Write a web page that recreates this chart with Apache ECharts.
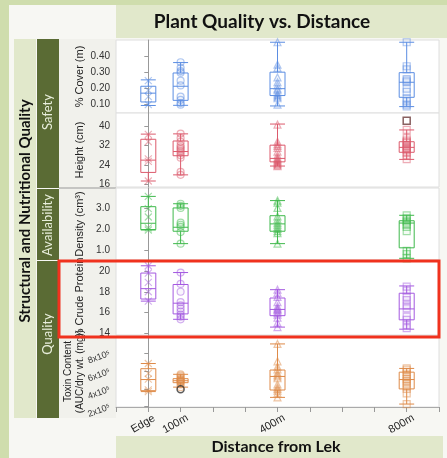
<!DOCTYPE html>
<html>
<head>
<meta charset="utf-8">
<script src="https://cdn.jsdelivr.net/npm/echarts@6/dist/echarts.min.js"></script>
<style>
  html, body { margin: 0; padding: 0; background: #cfddad; }
  #chart { width: 447px; height: 458px; }
</style>
</head>
<body>
<div id="chart"></div>
<script>
// distance groups (x axis)
const distances = [0, 100, 400, 800];
const distanceLabels = ['Edge', '100m', '400m', '800m'];

// box stats per group: [min, Q1, median, Q3, max]
const coverBox = [[0.095, 0.117, 0.172, 0.215, 0.255], [0.096, 0.127, 0.215, 0.298, 0.363], [0.092, 0.157, 0.200, 0.303, 0.490], [0.088, 0.146, 0.240, 0.300, 0.490]];
const coverPts = [
  [0.25, 0.19, 0.15, 0.10],
  [0.365, 0.33, 0.31, 0.30, 0.25, 0.22, 0.15, 0.13, 0.11, 0.10],
  [0.49, 0.35, 0.33, 0.27, 0.24, 0.22, 0.20, 0.19, 0.17, 0.16, 0.15, 0.14, 0.10],
  [0.49, 0.34, 0.32, 0.26, 0.25, 0.24, 0.20, 0.18, 0.14, 0.12, 0.10, 0.09]
];

const heightBox = [[17.5, 21.0, 26.0, 34.5, 36.6], [20.0, 27.8, 29.5, 33.8, 36.7], [23.6, 25.3, 26.7, 32.1, 40.7], [26.3, 29.2, 31.2, 33.5, 38.3]];
const heightPts = [
  [36.5, 33.5, 26.5, 25.5, 17.5],
  [36.8, 35.0, 33.5, 32.0, 31.2, 30.5, 29.8, 29.0, 28.0, 27.0, 21.2, 20.0],
  [40.5, 33.5, 32.5, 31.8, 31.0, 29.5, 28.0, 27.0, 26.5, 26.0, 25.5, 25.0, 24.5, 24.0, 23.6],
  [38.3, 35.0, 34.0, 33.5, 33.0, 32.0, 31.5, 31.0, 30.5, 30.0, 29.0, 28.0, 26.4]
];
const heightOutliers = [[800, 42]];

const densityBox = [[1.95, 1.97, 2.27, 3.06, 3.55], [1.30, 1.89, 2.08, 3.0, 3.2], [1.30, 1.89, 2.24, 2.63, 3.35], [0.6, 1.1, 2.28, 2.39, 2.65]];
const densityPts = [
  [3.55, 2.97, 2.57, 2.05, 1.95],
  [3.2, 3.1, 3.0, 2.3, 2.2, 2.1, 1.85, 1.3],
  [3.35, 3.25, 3.0, 2.6, 2.45, 2.3, 2.2, 2.1, 2.0, 1.9, 1.8, 1.3],
  [2.65, 2.5, 2.4, 2.3, 2.2, 2.1, 1.9, 0.95, 0.8, 0.6]
];

const proteinBox = [[17.1, 17.3, 18.3, 19.8, 20.5], [15.35, 15.87, 16.9, 18.7, 19.85], [14.6, 15.7, 16.3, 17.4, 18.2], [14.4, 15.3, 16.35, 17.86, 18.56]];
const proteinPts = [
  [20.5, 19.8, 18.9, 18.0, 17.1],
  [19.85, 18.75, 18.0, 17.0, 16.7, 16.4, 16.1, 15.8, 15.6, 15.35],
  [18.2, 17.9, 17.5, 17.0, 16.6, 16.4, 16.3, 16.2, 16.0, 15.8, 15.5, 15.0, 14.6],
  [18.5, 18.1, 17.5, 17.2, 16.7, 16.4, 15.6, 15.3, 14.8, 14.5]
];

// toxin in units of 10^5
const toxinBox = [[3.7, 3.8, 5.05, 6.27, 6.85], [4.2, 4.7, 4.92, 5.15, 5.64], [3.05, 3.88, 5.4, 6.12, 9.05], [2.3, 4.0, 5.05, 5.88, 6.3]];
const toxinPts = [
  [6.85, 5.75, 5.1, 3.9, 3.7],
  [5.64, 5.5, 5.3, 5.15, 5.05, 4.95, 4.9, 4.8, 4.7, 4.5, 4.2],
  [9.05, 7.1, 6.5, 6.2, 5.8, 5.6, 5.4, 5.2, 4.5, 4.2, 4.0, 3.8, 3.5, 3.05],
  [6.3, 6.15, 5.9, 5.6, 5.3, 5.1, 4.9, 4.6, 4.3, 4.0, 3.5, 2.3]
];
const toxinOutliers = [[100, 3.95]];

// tick labels
const coverTicks = [0.1, 0.2, 0.3, 0.4];
const heightTicks = [16, 24, 32, 40];
const densityTicks = [1, 2, 3];
const proteinTicks = [14, 16, 18, 20];
const toxinTicks = [2, 4, 6, 8];

const symbols = ['path://M0,0L10,10M10,0L0,10', 'circle', 'triangle', 'rect'];

const panels = [
  { name: '% Cover (m)', color: '#5b8de2', box: coverBox, pts: coverPts, ticks: coverTicks, min: 0.048, max: 0.504, top: 40, h: 73, fmt: v => v.toFixed(2) },
  { name: 'Height (cm)', color: '#dc5a6c', box: heightBox, pts: heightPts, ticks: heightTicks, min: 15.06, max: 45.2, top: 113, h: 74, fmt: v => String(v), out: heightOutliers, outColor: '#6b3a3a' },
  { name: 'Density (cm³)', color: '#3fb94c', box: densityBox, pts: densityPts, ticks: densityTicks, min: 0.52, max: 3.95, top: 188, h: 72, fmt: v => v.toFixed(1) },
  { name: '% Crude Protein', color: '#a459e0', box: proteinBox, pts: proteinPts, ticks: proteinTicks, min: 13.84, max: 20.96, top: 261, h: 74, fmt: v => String(v) },
  { name: 'Toxin Content\n(AUC/dry wt. (mg))', color: '#de8a48', box: toxinBox, pts: toxinPts, ticks: toxinTicks, min: 1.97, max: 9.94, top: 336, h: 71, fmt: v => v + 'x10⁵', out: toxinOutliers, outColor: '#333333', small: true }
];

function alpha(hex, a) {
  const n = parseInt(hex.slice(1), 16);
  return 'rgba(' + (n >> 16) + ',' + ((n >> 8) & 255) + ',' + (n & 255) + ',' + a + ')';
}

const grids = [], xAxes = [], yAxes = [], series = [];
panels.forEach((p, i) => {
  const last = i === panels.length - 1;
  grids.push({ left: 116, right: 8, top: p.top, height: p.h, show: true, backgroundColor: '#fff', borderColor: '#dedede', borderWidth: 1, outerBoundsMode: 'none' });
  xAxes.push({
    gridIndex: i, type: 'value', min: -100, max: 900, interval: 100,
    show: last,
    splitLine: { show: false },
    axisLine: { show: true, lineStyle: { color: '#aaa' } },
    axisTick: { show: true, length: 5, lineStyle: { color: '#999' } },
    axisLabel: {
      show: true, rotate: 30, margin: 14, fontSize: 11, color: '#222',
      fontFamily: 'Liberation Sans', align: 'center', padding: [0, 12, 0, 0],
      formatter: v => { const k = distances.indexOf(v); return k >= 0 ? distanceLabels[k] : ''; }
    }
  });
  yAxes.push({
    gridIndex: i, type: 'value', min: p.min, max: p.max,
    name: p.name, nameLocation: 'middle', nameGap: 30, nameMoveOverlap: false,
    nameTextStyle: { fontSize: p.small ? 10 : 11, color: '#222', fontFamily: 'Liberation Sans', lineHeight: 12 },
    splitLine: { show: false },
    axisLine: { show: true, lineStyle: { color: '#999' } },
    axisTick: { show: true, length: 4, customValues: p.ticks, lineStyle: { color: '#999' } },
    axisLabel: {
      customValues: p.ticks, formatter: p.fmt, margin: 6,
      fontSize: p.small ? 9 : 10, color: '#333', fontFamily: 'Liberation Sans',
      rotate: p.small ? 20 : 0
    }
  });
  distances.forEach((d, j) => {
    series.push({
      type: 'scatter', xAxisIndex: i, yAxisIndex: i, silent: true,
      symbol: symbols[j], symbolSize: 7,
      itemStyle: { color: alpha(p.color, 0.08), borderColor: alpha(p.color, 0.6), borderWidth: 1.2 },
      data: p.pts[j].map(v => [d, v])
    });
  });
  series.push({
    type: 'boxplot', xAxisIndex: i, yAxisIndex: i, silent: true,
    boxWidth: [15, 15],
    itemStyle: { color: 'rgba(255,255,255,0)', borderColor: p.color, borderWidth: 1 },
    emphasis: { disabled: true },
    data: distances.map((d, j) => [d].concat(p.box[j]))
  });
  if (p.out) {
    series.push({
      type: 'scatter', xAxisIndex: i, yAxisIndex: i, silent: true,
      symbol: i === 1 ? 'rect' : 'circle', symbolSize: 7,
      itemStyle: { color: 'rgba(255,255,255,0)', borderColor: p.outColor, borderWidth: 1.5 },
      data: p.out
    });
  }
});

const green = '#e1e8cb', dark = '#5a6b34';
const graphic = [
  { type: 'rect', z: -10, shape: { x: 9, y: 5, width: 438, height: 453 }, style: { fill: '#f7f7f3' } },
  { type: 'rect', z: -9, shape: { x: 116, y: 5, width: 331, height: 33 }, style: { fill: green } },
  { type: 'text', z: -8, x: 262, y: 22, style: { text: 'Plant Quality vs. Distance', fill: '#111', font: 'bold 19px Lato', align: 'center', verticalAlign: 'middle' } },
  { type: 'rect', z: -9, shape: { x: 59, y: 39, width: 57, height: 379 }, style: { fill: '#f1f1ec' } },
  { type: 'line', z: -8, shape: { x1: 59, y1: 188, x2: 116, y2: 188 }, style: { stroke: '#999', lineWidth: 1 } },
  { type: 'rect', z: -9, shape: { x: 14, y: 39, width: 22, height: 379 }, style: { fill: green } },
  { type: 'text', z: -8, x: 25, y: 211, rotation: Math.PI / 2, style: { text: 'Structural and Nutritional Quality', fill: '#111', font: 'bold 15px Lato', align: 'center', verticalAlign: 'middle' } },
  { type: 'rect', z: -9, shape: { x: 37, y: 39, width: 22, height: 149 }, style: { fill: dark } },
  { type: 'rect', z: -9, shape: { x: 37, y: 189, width: 22, height: 71 }, style: { fill: dark } },
  { type: 'rect', z: -9, shape: { x: 37, y: 261, width: 22, height: 157 }, style: { fill: dark } },
  { type: 'text', z: -8, x: 48, y: 112, rotation: Math.PI / 2, style: { text: 'Safety', fill: '#e8eedb', font: '13px Lato', align: 'center', verticalAlign: 'middle' } },
  { type: 'text', z: -8, x: 48, y: 225, rotation: Math.PI / 2, style: { text: 'Availability', fill: '#e8eedb', font: '13px Lato', align: 'center', verticalAlign: 'middle' } },
  { type: 'text', z: -8, x: 48, y: 334, rotation: Math.PI / 2, style: { text: 'Quality', fill: '#e8eedb', font: '13px Lato', align: 'center', verticalAlign: 'middle' } },
  { type: 'rect', z: -9, shape: { x: 116, y: 436, width: 327, height: 22 }, style: { fill: green } },
  { type: 'text', z: -8, x: 276, y: 447, style: { text: 'Distance from Lek', fill: '#111', font: 'bold 16px Lato', align: 'center', verticalAlign: 'middle' } },
  { type: 'rect', z: 100, shape: { x: 59, y: 261, width: 380, height: 76 }, style: { fill: 'none', stroke: '#f0321e', lineWidth: 3 } }
];

const chart = echarts.init(document.getElementById('chart'));
chart.setOption({
  backgroundColor: '#cfddad',
  animation: false,
  graphic: graphic,
  grid: grids,
  xAxis: xAxes,
  yAxis: yAxes,
  series: series
});
</script>
</body>
</html>
